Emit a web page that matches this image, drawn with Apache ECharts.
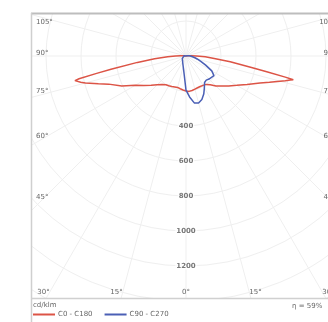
<!DOCTYPE html>
<html><head><meta charset="utf-8">
<script src="https://cdn.jsdelivr.net/npm/echarts@6/dist/echarts.min.js"></script>
<style>html,body{margin:0;padding:0;background:#fff}#c{width:328px;height:322px}</style>
</head><body><div id="c"></div>
<script>
// gamma angles (degrees from nadir)
var gammas = [0,5,10,15,20,25,30,35,40,45,50,55,60,65,70,72.5,75,76,77,77.5,78,79,80,82.5,85,87.5,90,92.5,95,100,105,180];
// C0 (right half of red curve), cd/klm
var c0   = [200,203,200,196,193,192,194,198,215,242,266,298,335,385,450,500,556,585,612,628,580,470,380,255,162,110,60,30,12,0,0,0];
// C180 (left half of red curve)
var c180 = [200,195,190,186,188,192,196,200,212,232,260,295,335,405,470,525,595,620,640,650,625,520,435,280,180,105,60,30,12,0,0,0];
// C90 (right half of blue curve)
var c90  = [195,235,272,278,265,240,210,185,180,186,190,195,170,124,90,78,66,62,59,57,55,52,48,41,34,29,25,20,15,5,0,0];
// C270 (left half of blue curve)
var c270 = [195,112,79,62,51,44,38,34,31,29,27,26,25,24,24,23,23,23,23,23,23,23,23,23,23,23,23,18,12,5,0,0];
var radialLabels = [400,600,800,1000,1200];
var angleLabels = [0,15,30,45,60,75,90,105];
var seriesNames = ['C0 - C180','C90 - C270'];

function loop(right, left){
  var out = [];
  for (var i = gammas.length-1; i >= 0; i--) out.push([left[i], 360 - gammas[i]]);
  for (var j = 0; j < gammas.length; j++) out.push([right[j], gammas[j]]);
  return out;
}

var cx = 186, cy = 56;
var graphics = [];
// masks outside frame
graphics.push({type:'rect', shape:{x:0,y:0,width:328,height:13}, style:{fill:'#fff'}, z:100});
graphics.push({type:'rect', shape:{x:0,y:0,width:31,height:322}, style:{fill:'#fff'}, z:100});
graphics.push({type:'rect', shape:{x:0,y:298,width:328,height:24}, style:{fill:'#fff'}, z:100});
// frame
graphics.push({type:'line', shape:{x1:31,y1:13.5,x2:328,y2:13.5}, style:{stroke:'#bdbdbd', lineWidth:2}, z:101});
graphics.push({type:'line', shape:{x1:31.5,y1:13,x2:31.5,y2:322}, style:{stroke:'#cfcfcf', lineWidth:1.5}, z:101});
graphics.push({type:'line', shape:{x1:31,y1:298.5,x2:328,y2:298.5}, style:{stroke:'#d0d0d0', lineWidth:1.5}, z:101});
graphics.push({type:'text', left:33, top:302, style:{text:'cd/klm', fontSize:7, fill:'#666', fontFamily:'DejaVu Sans'}, z:102});
graphics.push({type:'text', left:292, top:303, style:{text:'η = 59%', fontSize:7, fill:'#666', fontFamily:'DejaVu Sans'}, z:102});

angleLabels.forEach(function(a){
  [-1,1].forEach(function(side){
    if (a === 0 && side === 1) return;
    var r = a*Math.PI/180;
    var dx = side*Math.sin(r), dy = Math.cos(r);
    var tSide = Math.abs(dx) > 1e-6 ? (cx-42)/Math.abs(dx) : Infinity;
    var tBot = dy > 1e-6 ? (292-cy)/dy : Infinity;
    var x, y, align;
    if (tSide < tBot) {
      y = Math.max(22, cy + tSide*dy - 3);
      x = side < 0 ? 36 : 336;
      align = side < 0 ? 'left' : 'right';
    } else {
      y = 292;
      x = cx + tBot*dx;
      align = a === 0 ? 'center' : (side < 0 ? 'right' : 'left');
    }
    graphics.push({type:'text', x:x, y:y, style:{text:a+'°', fontSize:7, fill:'#666', align:align, verticalAlign:'middle', fontFamily:'DejaVu Sans'}, z:50});
  });
});

var chart = echarts.init(document.getElementById('c'));
chart.setOption({
  animation:false,
  backgroundColor:'#fff',
  polar:{center:[cx,cy], radius:315},
  angleAxis:{type:'value', min:0, max:360, interval:15, startAngle:-90, clockwise:false,
    axisLine:{show:false}, axisTick:{show:false}, axisLabel:{show:false},
    splitLine:{show:true, lineStyle:{color:'#efefef', width:1}}},
  radiusAxis:{type:'value', min:0, max:1800, interval:200,
    axisLine:{show:false}, axisTick:{show:false}, axisLabel:{show:false},
    splitLine:{show:true, lineStyle:{color:'#efefef', width:1}}},
  legend:{left:33, top:311, padding:0, itemWidth:22, itemHeight:2, itemGap:12, icon:'rect',
    textStyle:{fontSize:7, color:'#666', fontFamily:'DejaVu Sans', padding:[0,0,0,-2]}, data:seriesNames, z:110},
  series:[
    {type:'scatter', coordinateSystem:'polar', symbolSize:0, silent:true, z:3,
      data: radialLabels.map(function(v){return [v,0];}),
      label:{show:true, position:'inside', formatter:function(p){return p.value[0];},
        fontSize:7, color:'#555', fontWeight:'bold', backgroundColor:'#fff', padding:[0,1], fontFamily:'DejaVu Sans'}},
    {name:seriesNames[0], type:'line', coordinateSystem:'polar', symbol:'none', smooth:false, z:5,
      data: loop(c0, c180), lineStyle:{color:'#dc5446', width:1.5}, itemStyle:{color:'#dc5446'}},
    {name:seriesNames[1], type:'line', coordinateSystem:'polar', symbol:'none', smooth:false, z:6,
      data: loop(c90, c270), lineStyle:{color:'#4a5fb5', width:1.5}, itemStyle:{color:'#4a5fb5'}}
  ],
  graphic: graphics
});
</script></body></html>
